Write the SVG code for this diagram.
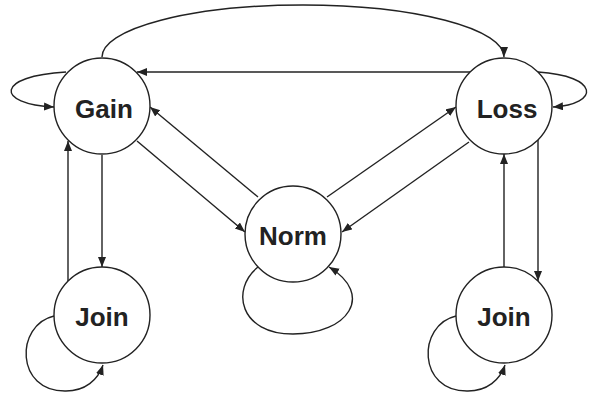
<svg xmlns="http://www.w3.org/2000/svg" width="591" height="394" viewBox="0 0 591 394">
<style>
.node circle{fill:#fff;stroke:#222;stroke-width:1.4}
.node text{font-family:"Liberation Sans",Arial,sans-serif;font-weight:bold;font-size:26px;fill:#222;text-anchor:middle}
.edge{fill:none;stroke:#222;stroke-width:1.4;marker-end:url(#arr)}
</style>
<defs>
<marker id="arr" markerUnits="userSpaceOnUse" markerWidth="11" markerHeight="9" refX="10" refY="4" orient="auto" viewBox="0 0 11 9">
<path d="M0,0 L10,4 L0,8 z" fill="#222"/>
</marker>
</defs>
<g id="connectors">
<path class="edge" d="M102,57 A201,52 0 0 1 504,57"/>
<path class="edge" d="M470,72 L137,72"/>
<path class="edge" d="M66,72 C-5,76 -5,104 54,107"/>
<path class="edge" d="M538,72 C600,76 600,104 553,107"/>
<path class="edge" d="M137,141 L245,232"/>
<path class="edge" d="M258,197 L150,107"/>
<path class="edge" d="M327,197 L456,107"/>
<path class="edge" d="M469,142 L342,232"/>
<path class="edge" d="M258,267 C230,290 240,334 293,334 C348,334 375,295 329,267"/>
<path class="edge" d="M102,155 L102,267"/>
<path class="edge" d="M68,281 L68,141"/>
<path class="edge" d="M504,267 L504,154"/>
<path class="edge" d="M538,140 L538,281"/>
<path class="edge" d="M54,316 C15,325 15,392 66,391 C85,391 98,380 103,365"/>
<path class="edge" d="M456,316 C417,325 417,392 468,391 C487,391 500,380 505,365"/>
</g>
<g id="gain" class="node"><circle cx="102" cy="106" r="48"/><text x="104" y="118">Gain</text></g>
<g id="loss" class="node"><circle cx="504" cy="106" r="48"/><text x="507" y="118">Loss</text></g>
<g id="norm" class="node"><circle cx="293" cy="234" r="48"/><text x="293" y="245">Norm</text></g>
<g id="join-left" class="node"><circle cx="102" cy="315" r="48"/><text x="102" y="326">Join</text></g>
<g id="join-right" class="node"><circle cx="504" cy="315" r="48"/><text x="504" y="326">Join</text></g>
</svg>
